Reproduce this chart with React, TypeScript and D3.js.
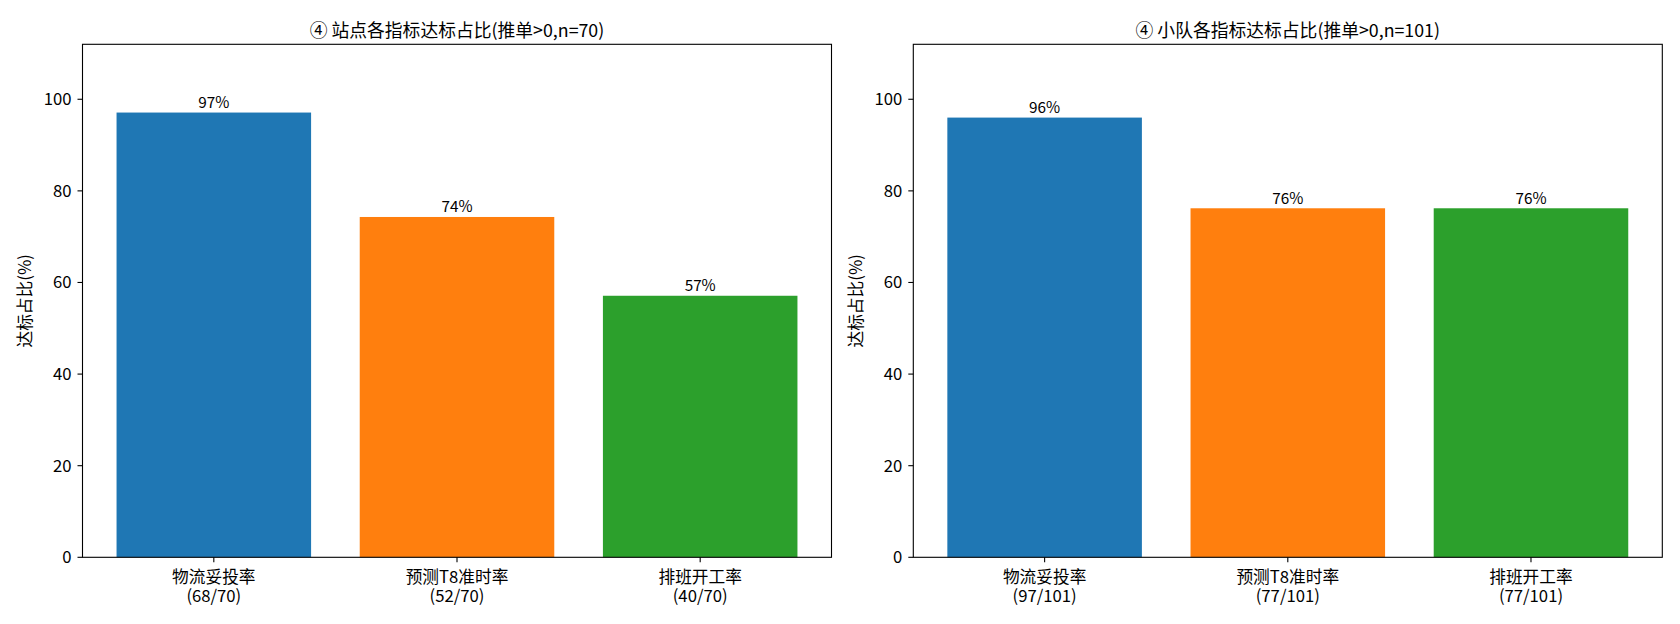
import * as d3 from "d3";

const categories = ["物流妥投率", "预测T8准时率", "排班开工率"];
const colors = ["#1f77b4", "#ff7f0e", "#2ca02c"];
const yTicks = [0, 20, 40, 60, 80, 100];

const siteTitle = "④ 站点各指标达标占比(推单>0,n=70)";
const siteValues = [97.1, 74.3, 57.1];
const siteCounts = ["68/70", "52/70", "40/70"];

const teamTitle = "④ 小队各指标达标占比(推单>0,n=101)";
const teamValues = [96.0, 76.2, 76.2];
const teamCounts = ["97/101", "77/101", "77/101"];

const FONT = '"Noto Sans CJK SC", "Noto Sans", sans-serif';

function BarPanel({
  title,
  values,
  counts,
  left,
  right,
  top = 44.3,
  bottom = 557.3,
}: {
  title: string;
  values: number[];
  counts: string[];
  left: number;
  right: number;
  top?: number;
  bottom?: number;
}) {
  const x = d3.scaleLinear().domain([-0.54, 2.54]).range([left, right]);
  const y = d3.scaleLinear().domain([0, 112]).range([bottom, top]);
  const mid = (left + right) / 2;
  return (
    <g fontFamily={FONT} fill="#000">
      <text x={mid} y={36.5} textAnchor="middle" fontSize={17.8}>
        {title}
      </text>
      {values.map((v, i) => (
        <rect
          key={"b" + i}
          x={x(i - 0.4)}
          y={y(v)}
          width={x(i + 0.4) - x(i - 0.4)}
          height={y(0) - y(v)}
          fill={colors[i]}
        />
      ))}
      {values.map((v, i) => (
        <text key={"v" + i} x={x(i)} y={y(v) - 4.5} textAnchor="middle" fontSize={15.3}>
          {Math.round(v) + "%"}
        </text>
      ))}
      <rect
        x={left}
        y={top}
        width={right - left}
        height={bottom - top}
        fill="none"
        stroke="#000"
        strokeWidth={1.1}
      />
      {yTicks.map(t => (
        <g key={"y" + t}>
          <line x1={left - 5} x2={left} y1={y(t)} y2={y(t)} stroke="#000" strokeWidth={1.1} />
          <text x={left - 11} y={y(t)} dy="0.35em" textAnchor="end" fontSize={16.7}>
            {t}
          </text>
        </g>
      ))}
      {categories.map((c, i) => (
        <g key={"x" + i}>
          <line x1={x(i)} x2={x(i)} y1={bottom} y2={bottom + 5} stroke="#000" strokeWidth={1.1} />
          <text x={x(i)} y={583} textAnchor="middle" fontSize={16.7}>
            {c}
          </text>
          <text x={x(i)} y={602} textAnchor="middle" fontSize={16.7}>
            {"(" + counts[i] + ")"}
          </text>
        </g>
      ))}
      <text
        transform={`translate(${left - 57},${(top + bottom) / 2}) rotate(-90)`}
        textAnchor="middle"
        dy="0.35em"
        fontSize={16.7}
      >
        达标占比(%)
      </text>
    </g>
  );
}

export default function App() {
  return (
    <div style={{ position: "absolute", left: 0, top: 0 }}>
      <svg width={1680} height={624} style={{ display: "block", background: "#fff" }}>
        <BarPanel title={siteTitle} values={siteValues} counts={siteCounts} left={82.5} right={831.5} />
        <BarPanel title={teamTitle} values={teamValues} counts={teamCounts} left={913.3} right={1662.3} />
      </svg>
    </div>
  );
}
